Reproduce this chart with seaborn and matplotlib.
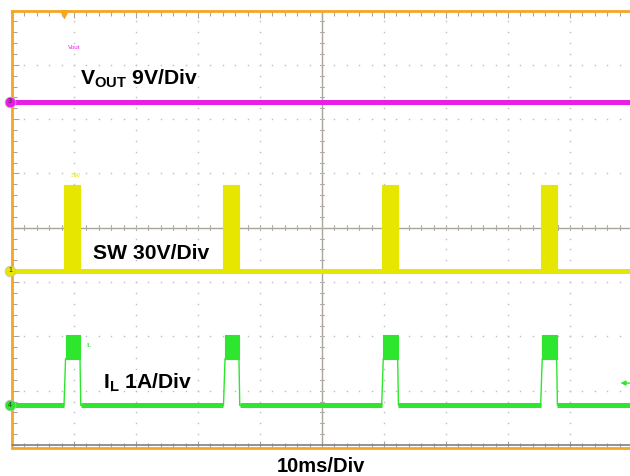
import numpy as np
import pandas as pd
import matplotlib
matplotlib.use("Agg")
import matplotlib.pyplot as plt
import seaborn as sns

# ---------------- data (time in ms, amplitude in screen divisions) ----------------
pulse_start = [8.39, 34.11, 59.63, 85.27]
pulse_end = [10.97, 36.61, 62.21, 87.85]
vout_level = 2.32
sw_low, sw_high = -0.79, 0.79
il_low, il_band_low, il_band_high = -3.27, -2.41, -1.97
t_range = [0.0, 100.0]
trigger_time = 8.4
trigger_level = -2.86

label_vout = r"V$_{\mathbf{OUT}}$ 9V/Div"
label_sw = "SW 30V/Div"
label_il = r"I$_{\mathbf{L}}$ 1A/Div"
label_time = "10ms/Div"

C_VOUT = "#E61EE6"
C_SW = "#E6E600"
C_IL = "#2EE62E"
C_FRAME = "#F5A623"
C_GRID = "#BDBDBD"

# ---------------- figure ----------------
sns.set_style("white")
plt.rcParams["font.family"] = ["Liberation Sans", "DejaVu Sans"]
plt.rcParams["mathtext.fontset"] = "custom"
plt.rcParams["mathtext.rm"] = "Liberation Sans:bold"
plt.rcParams["mathtext.bf"] = "Liberation Sans:bold"
plt.rcParams["mathtext.it"] = "Liberation Sans:bold"

fig = plt.figure(figsize=(6.3, 4.76), dpi=100)
ax = fig.add_axes([12 / 630, (476 - 445) / 476, 620 / 630, 434.5 / 476])
ax.set_xlim(0, 100)
ax.set_ylim(-4, 4)

# grid dots
for gx in np.arange(10, 100, 10):
    if gx == 50:
        continue
    ys = np.arange(-4, 4.001, 0.2)
    ax.plot(np.full_like(ys, gx), ys, ls="none", marker="s", ms=1.0, color=C_GRID, mew=0)
for gy in np.arange(-3, 4, 1):
    if gy == 0:
        continue
    xs = np.arange(0, 100.001, 2)
    ax.plot(xs, np.full_like(xs, gy), ls="none", marker="s", ms=1.0, color=C_GRID, mew=0)

# center crosshair with ticks
ax.axhline(0, color="#A8A49A", lw=1.0, zorder=1)
ax.axvline(50, color="#A8A49A", lw=1.0, zorder=1)
for tx in np.arange(0, 100.001, 2):
    ax.plot([tx, tx], [-0.05, 0.05], color="#B0ACA2", lw=0.8, zorder=1)
for ty in np.arange(-4, 4.001, 0.2):
    ax.plot([49.75, 50.25], [ty, ty], color="#B0ACA2", lw=0.8, zorder=1)

# ---------------- traces ----------------
# VOUT
vout_df = pd.DataFrame({"t": t_range, "v": [vout_level, vout_level]})
sns.lineplot(data=vout_df, x="t", y="v", ax=ax, color=C_VOUT, lw=3.6, zorder=3)

# SW baseline and pulse blocks
sw_df = pd.DataFrame({"t": t_range, "v": [sw_low, sw_low]})
sns.lineplot(data=sw_df, x="t", y="v", ax=ax, color=C_SW, lw=3.6, zorder=3)
for s, e in zip(pulse_start, pulse_end):
    ax.fill_between([s, e], [sw_low, sw_low], [sw_high, sw_high], color=C_SW, lw=0.8,
                    edgecolor=C_SW, zorder=3)

# IL waveform
il_t, il_v = [t_range[0]], [il_low]
for s, e in zip(pulse_start, pulse_end):
    il_t += [s, s + 0.25, e, e + 0.12]
    il_v += [il_low, il_band_low, il_band_low, il_low]
il_t.append(t_range[1])
il_v.append(il_low)
il_df = pd.DataFrame({"t": il_t, "v": il_v})
sns.lineplot(data=il_df, x="t", y="v", ax=ax, color=C_IL, lw=1.0, sort=False, zorder=3)
seg_starts = [t_range[0]] + [e + 0.12 for e in pulse_end]
seg_ends = list(pulse_start) + [t_range[1]]
ax.hlines([il_low] * len(seg_starts), seg_starts, seg_ends, color=C_IL, lw=3.6, zorder=3)
for s, e in zip(pulse_start, pulse_end):
    ax.fill_between([s + 0.25, e], [il_band_low] * 2, [il_band_high] * 2, color=C_IL,
                    lw=0.8, edgecolor=C_IL, zorder=3)

# ---------------- frame ----------------
for side in ["top", "left", "bottom"]:
    ax.spines[side].set_color(C_FRAME)
    ax.spines[side].set_linewidth(2.0)
ax.spines["right"].set_visible(False)
ax.spines["bottom"].set_position(("outward", 2))
ax.axhline(-4, color="#808080", lw=1.2, zorder=4, clip_on=False)

ax.set_xticks(np.arange(0, 101, 10))
ax.set_xticks(np.arange(0, 101, 2), minor=True)
ax.set_yticks(np.arange(-4, 4.01, 1))
ax.set_yticks(np.arange(-4, 4.01, 0.2), minor=True)
ax.tick_params(which="both", direction="in", top=True, bottom=True, left=True, right=False,
               labelbottom=False, labelleft=False, color="#A8A49A", width=0.8)
ax.tick_params(which="major", length=5)
ax.tick_params(which="minor", length=3.5)
ax.set_xlabel("")
ax.set_ylabel("")

# channel markers on left edge
markers = [(vout_level, C_VOUT, "3"), (sw_low, C_SW, "1"), (il_low, C_IL, "4")]
for yv, col, num in markers:
    ax.scatter([-0.3], [yv], s=60, color=col, edgecolor="#C0C0C0", linewidth=0.5,
               zorder=6, clip_on=False)
    ax.text(-0.3, yv, num, fontsize=5, ha="center", va="center", color="#303030",
            zorder=7, clip_on=False)

# trigger position marker (top) and trigger level arrow (right)
ax.scatter([trigger_time], [3.93], marker="v", s=30, color=C_FRAME, zorder=6, clip_on=False)
ax.annotate("", xy=(97.7, trigger_level), xytext=(100.5, trigger_level),
            arrowprops=dict(arrowstyle="-|>", color=C_IL, lw=1.0, mutation_scale=7),
            annotation_clip=False, zorder=6)

# small channel names
ax.text(9.0, 3.32, "Vout", fontsize=4.5, color=C_VOUT, ha="left", va="center")
ax.text(9.4, 0.97, "SW", fontsize=4.5, color=C_SW, ha="left", va="center")
ax.text(12.0, -2.17, "IL", fontsize=4.5, color=C_IL, ha="left", va="center")

# big labels
ax.text(10.97, 2.64, label_vout, fontsize=15.2, fontweight="bold", ha="left",
        va="baseline", color="black", zorder=8)
ax.text(13.06, -0.58, label_sw, fontsize=15.2, fontweight="bold", ha="left",
        va="baseline", color="black", zorder=8)
ax.text(14.68, -2.96, label_il, fontsize=15.2, fontweight="bold", ha="left",
        va="baseline", color="black", zorder=8)

fig.text(321 / 630, (476 - 472) / 476, label_time, fontsize=14.5, fontweight="bold",
         ha="center", va="baseline", color="black")

fig.savefig("out.png", dpi=100, facecolor="white")
